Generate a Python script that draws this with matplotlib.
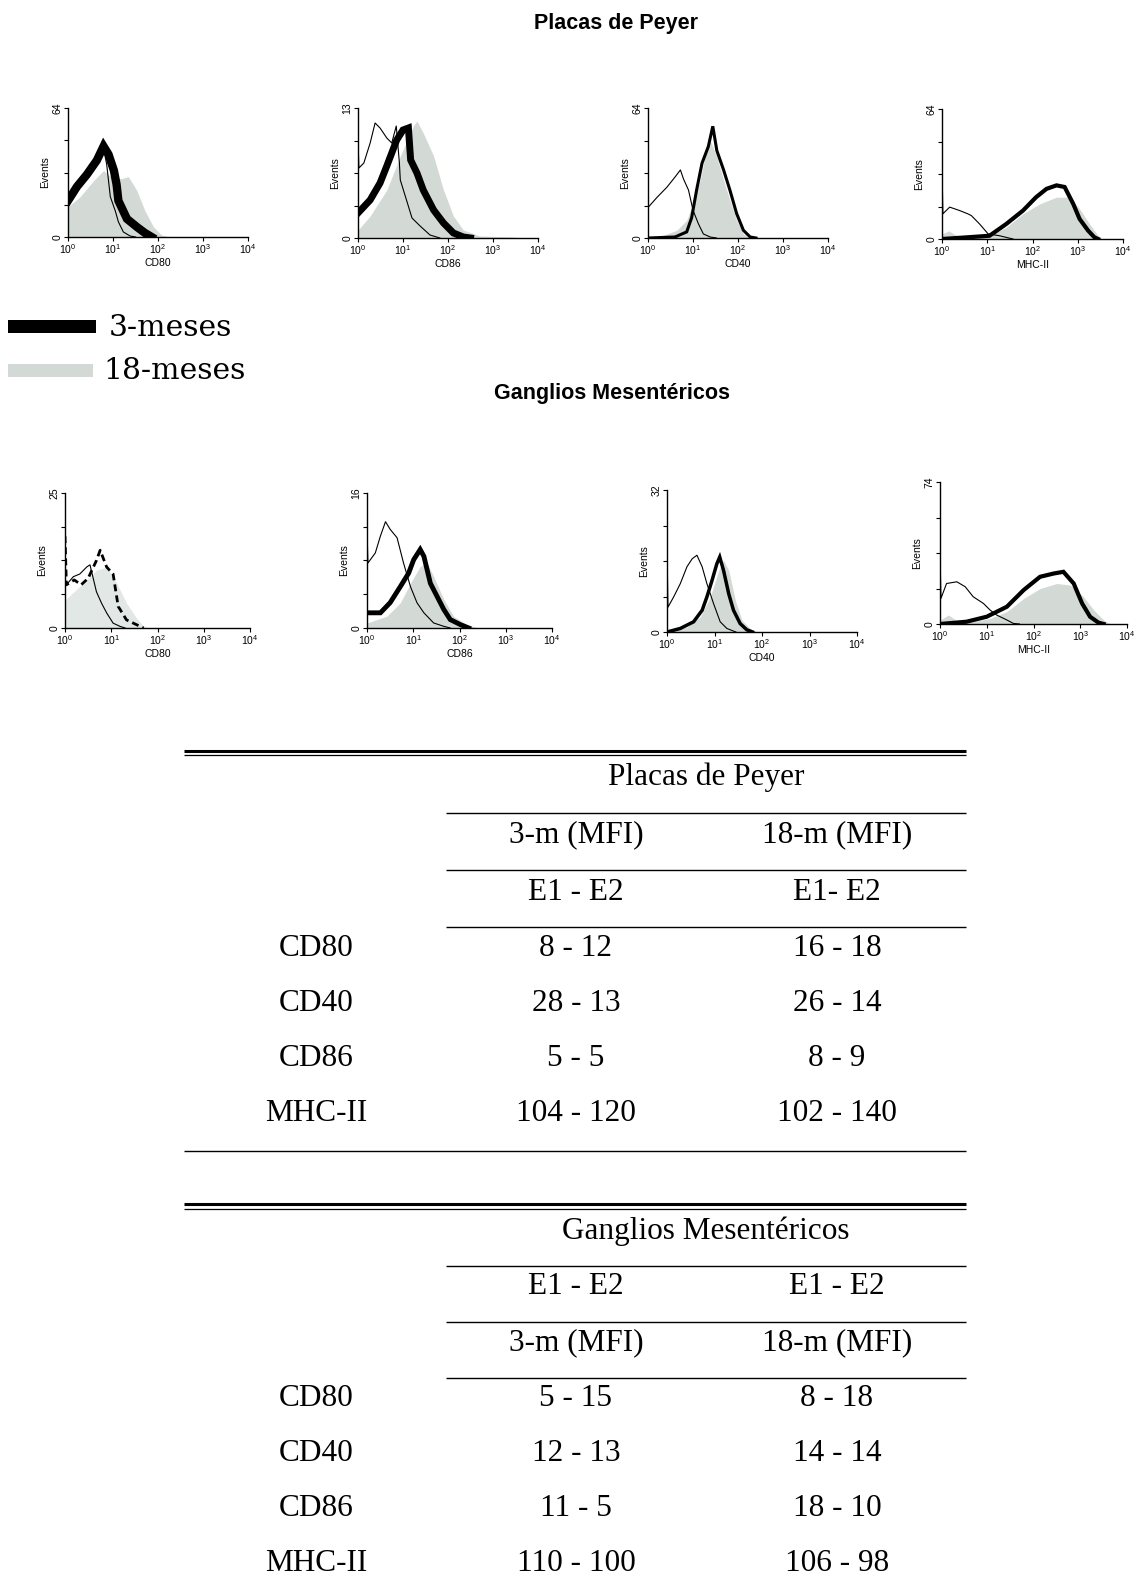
import matplotlib
matplotlib.use("Agg")
import matplotlib.pyplot as plt
import numpy as np

W, H = 1138, 1596
plt.rcParams['font.family'] = ['Liberation Sans', 'DejaVu Sans']

# ---- flow cytometry histograms: (log10 fluorescence, events) ----
# Placas de Peyer
pp_cd80_ctrl = [(0.0, 18), (0.2, 25), (0.42, 31), (0.64, 38), (0.79, 44), (0.86, 36), (0.94, 20),
                (1.05, 13), (1.12, 7.5), (1.23, 2.5), (1.38, 0.5), (1.5, 0)]
pp_cd80_3m = [(0.0, 18), (0.2, 25), (0.42, 31), (0.64, 38), (0.79, 45), (0.9, 41), (1.02, 33),
              (1.08, 26), (1.12, 18), (1.31, 9), (1.53, 5), (1.71, 2), (1.86, 0)]
pp_cd80_18m = [(0.0, 15), (0.27, 20), (0.57, 28), (0.79, 33), (1.0, 29), (1.2, 29), (1.34, 30),
               (1.53, 23), (1.71, 13), (1.9, 5), (2.08, 1), (2.27, 0)]

pp_cd86_ctrl = [(0.0, 9.8), (0.02, 7), (0.13, 7.5), (0.27, 9.5), (0.38, 11.5), (0.49, 11), (0.64, 10),
                (0.75, 9.5), (0.85, 11.2), (0.92, 7.5), (0.94, 5.8), (1.05, 4.2), (1.2, 2), (1.38, 1.2),
                (1.6, 0.3), (1.82, 0)]
pp_cd86_3m = [(0.0, 2.5), (0.27, 3.8), (0.49, 5.5), (0.64, 7.2), (0.86, 9.8), (1.0, 10.8), (1.12, 11),
              (1.17, 7.8), (1.31, 6.5), (1.45, 4.8), (1.68, 2.8), (1.9, 1.5), (2.12, 0.5), (2.34, 0.1),
              (2.5, 0)]
pp_cd86_18m = [(0.0, 0.8), (0.27, 2.2), (0.64, 4.8), (0.94, 8.2), (1.23, 11.2), (1.31, 11.7), (1.45, 10.5),
               (1.68, 8.2), (1.9, 4.8), (2.12, 2.2), (2.34, 0.8), (2.71, 0.2), (3.45, 0.1), (3.6, 0)]

pp_cd40_ctrl = [(0.0, 15), (0.2, 20), (0.42, 25), (0.6, 30), (0.72, 33.5), (0.79, 29), (0.9, 23.6),
                (1.0, 13.7), (1.12, 7), (1.23, 2), (1.38, 0.5), (1.52, 0)]
pp_cd40_3m = [(0.0, 0), (0.6, 0.5), (0.86, 3), (0.97, 10), (1.08, 23.6), (1.2, 36.8), (1.34, 45),
              (1.44, 55), (1.53, 43), (1.68, 33.5), (1.82, 23.6), (1.97, 12), (2.12, 3.8), (2.27, 0.5),
              (2.4, 0)]
pp_cd40_18m = [(0.0, 0), (0.3, 1), (0.64, 3.8), (0.86, 8.7), (1.0, 17), (1.16, 28.5), (1.31, 45),
               (1.38, 48), (1.53, 40), (1.68, 28.5), (1.82, 18.6), (1.97, 8.7), (2.12, 2), (2.25, 0)]

pp_mhc_ctrl = [(0.0, 35), (0.02, 12.4), (0.17, 15.7), (0.39, 14), (0.57, 12.4), (0.65, 11.5), (0.83, 7.4),
               (1.02, 2.5), (1.27, 1.6), (1.42, 0.8), (1.57, 0)]
pp_mhc_3m = [(0.0, 0), (0.54, 0.8), (1.05, 1.6), (1.42, 7.4), (1.79, 14), (2.08, 20.6), (2.31, 24.7),
             (2.53, 26.4), (2.71, 25.6), (2.9, 17.3), (3.04, 9.9), (3.23, 4.1), (3.37, 0.8), (3.45, 0)]
pp_mhc_18m = [(0.0, 2.5), (0.15, 4), (0.3, 2), (0.54, 0.8), (1.05, 1.6), (1.42, 5.8), (1.79, 12.4),
              (2.16, 17.3), (2.53, 20.6), (2.82, 20.6), (3.04, 14.9), (3.26, 7.4), (3.48, 0.8), (3.55, 0)]

# Ganglios Mesentéricos
gm_cd80_ctrl = [(0.0, 7.7), (0.18, 9.5), (0.32, 10), (0.47, 11.3), (0.54, 11.7), (0.68, 6.7), (0.79, 4.6),
                (0.9, 2.8), (1.04, 0.9), (1.19, 0.3), (1.3, 0)]
gm_cd80_3m = [(0.0, 17), (0.03, 8), (0.2, 8.9), (0.35, 8), (0.5, 9.2), (0.68, 12.5), (0.76, 14.4),
              (0.9, 11.3), (1.04, 10), (1.15, 4), (1.33, 1.5), (1.55, 0.6), (1.7, 0)]
gm_cd80_18m = [(0.0, 5.2), (0.32, 7.7), (0.68, 10.7), (0.9, 11.3), (1.12, 8.3), (1.33, 4.6), (1.55, 1.8),
               (1.7, 0.3), (1.8, 0)]

gm_cd86_ctrl = [(0.0, 11.7), (0.02, 7.7), (0.18, 8.9), (0.29, 10.9), (0.4, 12.6), (0.5, 11.7), (0.65, 10.7),
                (0.79, 7.7), (0.94, 4.9), (1.08, 3), (1.23, 1.8), (1.44, 0.6), (1.66, 0.2), (1.8, 0)]
gm_cd86_3m = [(0.0, 1.8), (0.29, 1.8), (0.5, 3), (0.72, 4.9), (0.9, 6.5), (1.01, 8.1), (1.15, 9.3),
              (1.23, 8.5), (1.37, 5.3), (1.51, 3.8), (1.66, 2.2), (1.8, 1), (2.02, 0.4), (2.2, 0)]
gm_cd86_18m = [(0.0, 0.6), (0.43, 1.4), (0.72, 3), (0.94, 5.3), (1.15, 7.3), (1.3, 7.7), (1.44, 6.1),
               (1.66, 3.4), (1.87, 1.4), (2.16, 0.4), (2.4, 0)]

gm_cd40_ctrl = [(0.0, 18.8), (0.02, 5.6), (0.14, 7.9), (0.28, 10.9), (0.42, 14.7), (0.53, 16.5), (0.63, 17.3),
                (0.74, 14.7), (0.84, 10.9), (0.98, 6.4), (1.12, 2.3), (1.26, 0.8), (1.45, 0)]
gm_cd40_3m = [(0.0, 0), (0.28, 0.8), (0.56, 2.3), (0.74, 4.9), (0.84, 7.9), (0.95, 11.7), (1.05, 15.4),
              (1.11, 16.9), (1.19, 13.9), (1.3, 8.6), (1.4, 4.9), (1.54, 1.9), (1.68, 0.5), (1.8, 0)]
gm_cd40_18m = [(0.0, 0), (0.42, 1.1), (0.7, 3.4), (0.91, 7.9), (1.09, 13.9), (1.19, 16.2), (1.3, 13.9),
               (1.44, 7.1), (1.58, 2.6), (1.75, 0.8), (1.9, 0)]

gm_mhc_ctrl = [(0.0, 38.5), (0.02, 13.3), (0.14, 21.1), (0.36, 22), (0.54, 19.4), (0.71, 14.2), (0.93, 10.7),
               (1.07, 7.3), (1.21, 4.7), (1.43, 2.1), (1.57, 0.3), (1.7, 0)]
gm_mhc_3m = [(0.0, 0), (0.57, 1.2), (1.0, 3.8), (1.43, 9), (1.79, 17.7), (2.14, 24.6), (2.43, 26.3),
             (2.64, 27.2), (2.86, 21.1), (3.04, 10.7), (3.21, 3.8), (3.39, 0.7), (3.5, 0)]
gm_mhc_18m = [(0.0, 2.1), (0.18, 4.7), (0.39, 1.2), (0.71, 1.2), (1.07, 2.9), (1.43, 6.4), (1.79, 13.3),
              (2.14, 18.5), (2.5, 21.1), (2.79, 20.3), (3.07, 14.2), (3.29, 7.3), (3.5, 2.1), (3.64, 0)]

# axis maxima (events) and marker names
pp_ymax = [64, 13, 64, 64]
gm_ymax = [25, 16, 32, 74]
hist_markers = ["CD80", "CD86", "CD40", "MHC-II"]

# ---- MFI tables ----
table_markers = ["CD80", "CD40", "CD86", "MHC-II"]
pp_mfi_3m = [(8, 12), (28, 13), (5, 5), (104, 120)]
pp_mfi_18m = [(16, 18), (26, 14), (8, 9), (102, 140)]
gm_mfi_3m = [(5, 15), (12, 13), (11, 5), (110, 100)]
gm_mfi_18m = [(8, 18), (14, 14), (18, 10), (106, 98)]

GRAY = "#d3dad6"
GRAY_LIGHT = "#e2e8e5"

fig = plt.figure(figsize=(W / 100, H / 100), dpi=100)

# overlay in pixel units for titles, legend and tables
ov = fig.add_axes([0, 0, 1, 1])
ov.set_xlim(0, W)
ov.set_ylim(H, 0)
ov.axis("off")


def px_axes(x0, y0, x1, y1):
    return fig.add_axes([x0 / W, 1 - y1 / H, (x1 - x0) / W, (y1 - y0) / H])


def curve(pts):
    d, v = zip(*pts)
    return 10 ** np.array(d), np.array(v, dtype=float)


def histogram(ax, ctrl, young, old, ymax, marker, lw_young, old_color, dashed=False):
    xo, yo = curve(old)
    ax.fill_between(xo, 0, yo, color=old_color, lw=0, zorder=1)
    xy, yy = curve(young)
    if dashed:
        ax.plot(xy, yy, color="black", lw=lw_young, ls=(0, (2.5, 1.5)), zorder=2)
    else:
        ax.plot(xy, yy, color="black", lw=lw_young, zorder=2, solid_joinstyle="miter")
    xc, yc = curve(ctrl)
    ax.plot(xc, yc, color="black", lw=0.8, zorder=3)

    ax.set_xscale("log")
    ax.set_xlim(1, 1e4)
    ax.set_ylim(0, ymax)
    for s in ("top", "right"):
        ax.spines[s].set_visible(False)
    for s in ("left", "bottom"):
        ax.spines[s].set_linewidth(1.0)
    ax.set_xticks([1, 10, 100, 1000, 10000])
    ax.set_xticklabels([r"$\mathregular{10^{%d}}$" % k for k in range(5)], fontsize=7.5)
    ax.tick_params(axis="x", which="major", length=3, pad=1, width=0.8)
    ax.tick_params(axis="x", which="minor", length=1.8, width=0.6)
    ax.set_yticks([ymax * k / 4 for k in range(5)])
    ax.set_yticklabels(["0", "", "", "", str(ymax)], fontsize=7.5)
    ax.tick_params(axis="y", length=3, pad=1, width=0.8)
    for lab in ax.get_yticklabels():
        lab.set_rotation(90)
        lab.set_va("center")
    ax.set_ylabel("Events", fontsize=7.5, labelpad=2)
    ax.set_xlabel(marker, fontsize=7.5, labelpad=1)
    ax.patch.set_alpha(0)


# Placas de Peyer row
pp_boxes = [(68, 108, 248, 237), (358, 108, 538, 238), (648, 108, 828, 238), (942, 109, 1123, 239)]
pp_sets = [(pp_cd80_ctrl, pp_cd80_3m, pp_cd80_18m), (pp_cd86_ctrl, pp_cd86_3m, pp_cd86_18m),
           (pp_cd40_ctrl, pp_cd40_3m, pp_cd40_18m), (pp_mhc_ctrl, pp_mhc_3m, pp_mhc_18m)]
pp_lw = [6.0, 5.0, 2.2, 3.0]
for box, (c, y, o), ym, mk, lw in zip(pp_boxes, pp_sets, pp_ymax, hist_markers, pp_lw):
    histogram(px_axes(*box), c, y, o, ym, mk, lw, GRAY)

# Ganglios Mesentéricos row
gm_boxes = [(65, 493, 250, 628), (367, 493, 552, 628), (667, 490, 857, 632), (940, 482, 1127, 624)]
gm_sets = [(gm_cd80_ctrl, gm_cd80_3m, gm_cd80_18m), (gm_cd86_ctrl, gm_cd86_3m, gm_cd86_18m),
           (gm_cd40_ctrl, gm_cd40_3m, gm_cd40_18m), (gm_mhc_ctrl, gm_mhc_3m, gm_mhc_18m)]
gm_lw = [2.0, 3.5, 2.5, 3.0]
gm_dashed = [True, False, False, False]
gm_colors = [GRAY_LIGHT, GRAY, GRAY, GRAY]
for box, (c, y, o), ym, mk, lw, dsh, col in zip(gm_boxes, gm_sets, gm_ymax, hist_markers, gm_lw,
                                                gm_dashed, gm_colors):
    histogram(px_axes(*box), c, y, o, ym, mk, lw, col, dashed=dsh)

# section titles
ov.text(605 * 1.018, 24, "Placas de Peyer", ha="center", va="center", fontsize=15.5, fontweight="bold")
ov.text(612, 393, "Ganglios Mesentéricos", ha="center", va="center", fontsize=15.5, fontweight="bold")

# legend
ov.add_patch(plt.Rectangle((8, 320), 88, 13, color="black", lw=0))
ov.add_patch(plt.Rectangle((8, 364), 85, 13, color=GRAY, lw=0))
ov.text(109, 328, "3-meses", ha="left", va="center", fontsize=21.5, family="DejaVu Serif")
ov.text(103, 371, "18-meses", ha="left", va="center", fontsize=21.5, family="DejaVu Serif")

# tables
SERIF = "Liberation Serif"
TFS = 22.5
X0, X1, XSUB = 184, 966, 446
COL_LAB, COL_A, COL_B, COL_HEAD = 316, 576, 837, 706


def hline(y, x0=X0, lw=1.0):
    ov.plot([x0, X1], [y, y], color="black", lw=lw, solid_capstyle="butt")


def tcell(x, y, s):
    ov.text(x, y, s, ha="center", va="center", fontsize=TFS, family=SERIF)


def pair(v):
    return "%d - %d" % v


# Placas de Peyer table
hline(751, lw=2.2)
hline(755, lw=0.9)
tcell(COL_HEAD, 777, "Placas de Peyer")
hline(813, XSUB)
tcell(COL_A, 835, "3-m (MFI)")
tcell(COL_B, 835, "18-m (MFI)")
hline(870, XSUB)
tcell(COL_A, 892, "E1 - E2")
tcell(COL_B, 892, "E1- E2")
hline(927, XSUB)
for i, (mk, a, b) in enumerate(zip(table_markers, pp_mfi_3m, pp_mfi_18m)):
    y = 948 + i * 55.3
    tcell(COL_LAB, y, mk)
    tcell(COL_A, y, pair(a))
    tcell(COL_B, y, pair(b))
hline(1151)

# Ganglios Mesentéricos table
hline(1204, lw=2.2)
hline(1208.5, lw=0.9)
tcell(COL_HEAD, 1231, "Ganglios Mesentéricos")
hline(1266, XSUB)
tcell(COL_A, 1287, "E1 - E2")
tcell(COL_B, 1287, "E1 - E2")
hline(1322, XSUB)
tcell(COL_A, 1343, "3-m (MFI)")
tcell(COL_B, 1343, "18-m (MFI)")
hline(1378, XSUB)
for i, (mk, a, b) in enumerate(zip(table_markers, gm_mfi_3m, gm_mfi_18m)):
    y = 1398 + i * 55.3
    tcell(COL_LAB, y, mk)
    tcell(COL_A, y, pair(a))
    tcell(COL_B, y, pair(b))

fig.savefig("out.png", dpi=100)
